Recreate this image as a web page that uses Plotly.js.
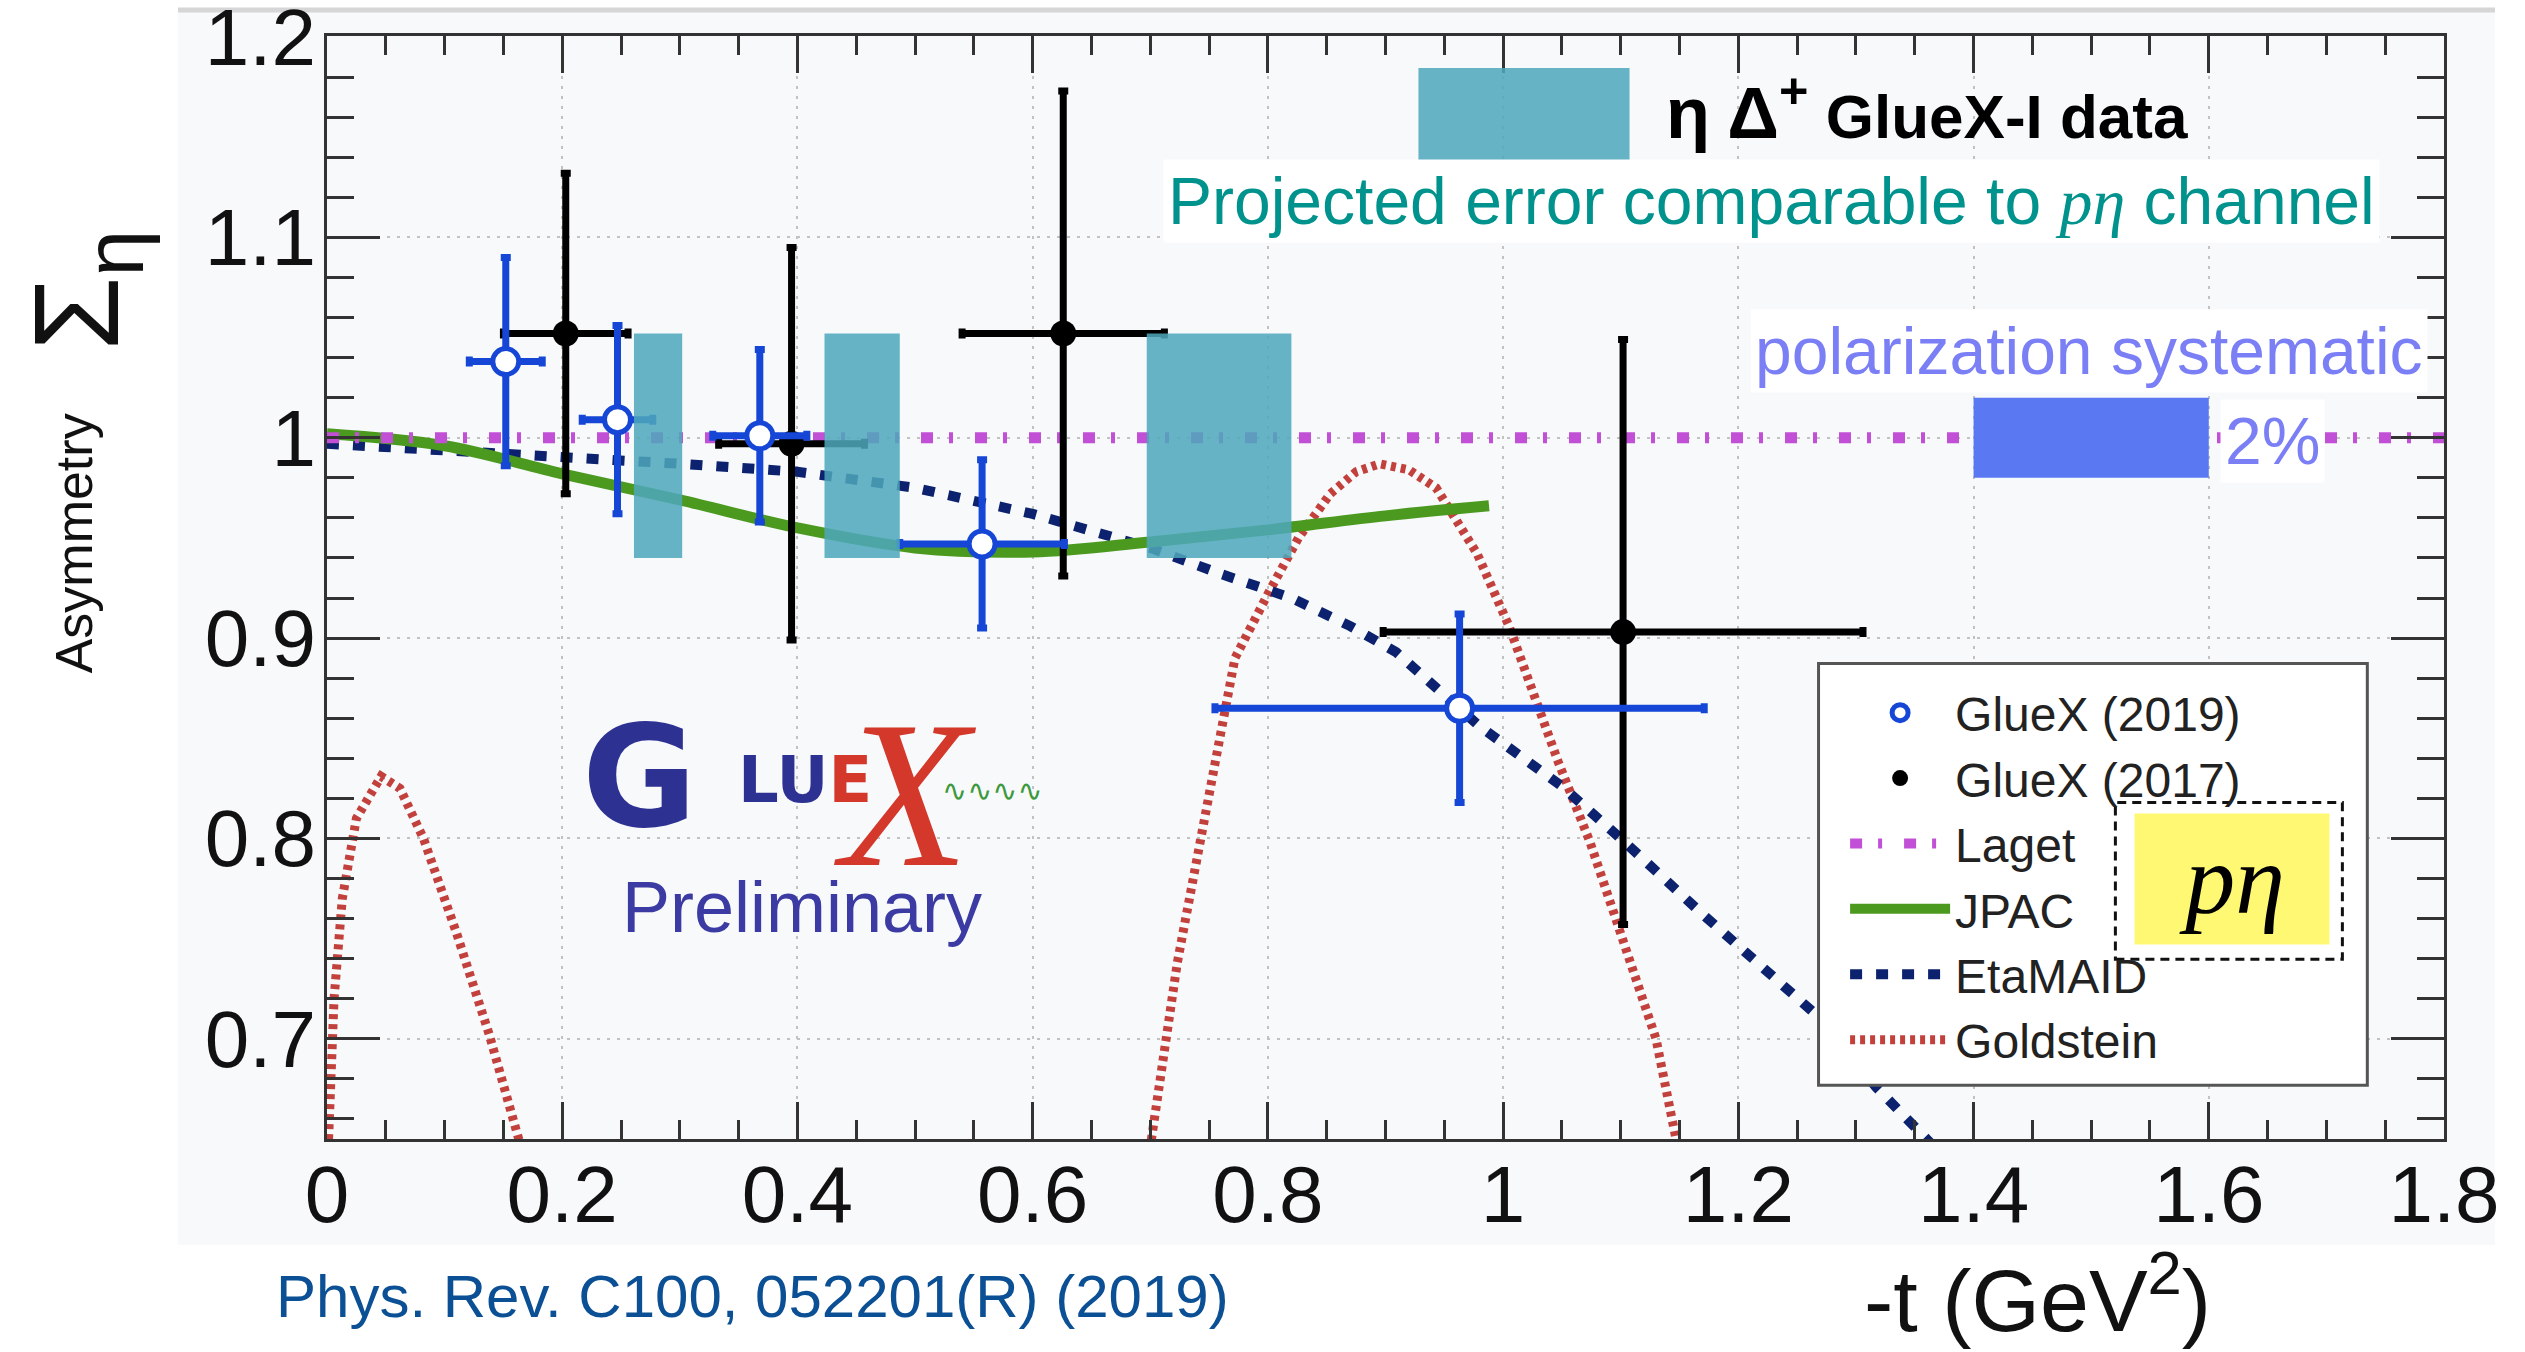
<!DOCTYPE html>
<html>
<head>
<meta charset="utf-8">
<script src="https://cdn.plot.ly/plotly-3.0.1.min.js"></script>
<style>
html,body{margin:0;padding:0;background:#ffffff;}
#chart{width:2525px;height:1352px;}
</style>
</head>
<body>
<div id="chart"></div>
<script>
// ---------------- data ----------------
// GlueX (2019): open blue circles
const gx19T    = [0.152, 0.247, 0.368, 0.557, 0.963];
const gx19S    = [1.038, 1.009, 1.001, 0.947, 0.865];
const gx19ErrS = [0.052, 0.047, 0.043, 0.042, 0.047];
const gx19ErrT = [0.031, 0.030, 0.040, 0.070, 0.208];
// GlueX (2017): filled black circles
const gx17T    = [0.203, 0.395, 0.626, 1.102];
const gx17S    = [1.052, 0.997, 1.052, 0.903];
const gx17ErrS = [0.080, 0.098, 0.121, 0.146];
const gx17ErrT = [0.053, 0.062, 0.086, 0.204];
// Model curves
const lagetT = [0, 1.8];
const lagetS = [1.0, 1.0];
const jpacT = [0, 0.1, 0.2, 0.3, 0.4, 0.5, 0.6, 0.7, 0.8, 0.9, 0.988];
const jpacS = [1.002, 0.996, 0.982, 0.969, 0.955, 0.945, 0.943, 0.948, 0.954, 0.961, 0.966];
const etaMaidT = [0, 0.1, 0.2, 0.3, 0.4, 0.5, 0.6, 0.7, 0.76, 0.82, 0.87, 0.909, 0.98, 1.05, 1.1, 1.17, 1.27, 1.317, 1.36, 1.38];
const etaMaidS = [0.997, 0.994, 0.990, 0.987, 0.983, 0.975, 0.962, 0.945, 0.932, 0.920, 0.906, 0.893, 0.856, 0.826, 0.800, 0.762, 0.710, 0.676, 0.650, 0.638];
const goldT = [0, 0.006, 0.013, 0.025, 0.046, 0.062, 0.082, 0.11, 0.138, 0.163, 0.175, null,
               0.69, 0.701, 0.723, 0.744, 0.772, 0.80, 0.826, 0.853, 0.875, 0.895, 0.92, 0.943, 0.978, 1.005, 1.047, 1.074, 1.102, 1.130, 1.147, 1.157];
const goldS = [0.63, 0.72, 0.77, 0.81, 0.831, 0.825, 0.80, 0.753, 0.702, 0.65, 0.625, null,
               0.61, 0.65, 0.738, 0.805, 0.89, 0.922, 0.95, 0.972, 0.983, 0.987, 0.984, 0.975, 0.942, 0.906, 0.838, 0.798, 0.749, 0.70, 0.65, 0.62];
// Projected eta Delta+ GlueX-I errors (t bins and Sigma band)
const projT0 = [0.261, 0.423, 0.697];
const projT1 = [0.302, 0.487, 0.820];
const projLo = [0.940, 0.940, 0.940];
const projHi = [1.052, 1.052, 1.052];
// Polarization systematic (2%) box
const sysT0 = [1.4];
const sysT1 = [1.6];
const sysLo = [0.98];
const sysHi = [1.02];
// Axis tick labels
const xTickVals = [0, 0.2, 0.4, 0.6, 0.8, 1, 1.2, 1.4, 1.6, 1.8];
const xTickText = ['0', '0.2', '0.4', '0.6', '0.8', '1', '1.2', '1.4', '1.6', '1.8'];
const yTickVals = [0.7, 0.8, 0.9, 1.0, 1.1, 1.2];
const yTickText = ['0.7', '0.8', '0.9', '1', '1.1', '1.2'];

// ---------------- helpers ----------------
function boxesX(x0, x1) {
  const out = [];
  for (let i = 0; i < x0.length; i++) out.push(x0[i], x1[i], x1[i], x0[i], x0[i], null);
  return out;
}
function boxesY(lo, hi) {
  const out = [];
  for (let i = 0; i < lo.length; i++) out.push(lo[i], lo[i], hi[i], hi[i], lo[i], null);
  return out;
}

const SANS = 'Liberation Sans, Arial, sans-serif';
const SERIF = 'Liberation Serif, Times New Roman, serif';
const TEAL = 'rgba(78,168,188,0.86)';

const traces = [
  { x: goldT, y: goldS, name: 'Goldstein', mode: 'lines', connectgaps: false, legendrank: 6,
    line: { color: '#c2413c', width: 9, dash: '5px,5px' } },
  { x: etaMaidT, y: etaMaidS, name: 'EtaMAID', mode: 'lines', legendrank: 5,
    line: { color: '#0c226e', width: 10, dash: '12px,14px' } },
  { x: jpacT, y: jpacS, name: 'JPAC', mode: 'lines', legendrank: 4, line: { shape: 'spline', color: '#4b9a1f', width: 11 } },
  { x: lagetT, y: lagetS, name: 'Laget', mode: 'lines', legendrank: 3,
    line: { color: '#c150d6', width: 11, dash: '12px,16px,4px,22px' } },
  { x: gx17T, y: gx17S, name: 'GlueX (2017)', mode: 'markers', legendrank: 2,
    marker: { symbol: 'circle', size: 26, color: '#000000' },
    error_y: { type: 'data', array: gx17ErrS, color: '#000000', thickness: 7, width: 5 },
    error_x: { type: 'data', array: gx17ErrT, color: '#000000', thickness: 7, width: 5 } },
  { x: gx19T, y: gx19S, name: 'GlueX (2019)', mode: 'markers', legendrank: 1,
    marker: { symbol: 'circle', size: 26, color: '#ffffff', line: { color: '#1546d6', width: 5 } },
    error_y: { type: 'data', array: gx19ErrS, color: '#1546d6', thickness: 7, width: 5 },
    error_x: { type: 'data', array: gx19ErrT, color: '#1546d6', thickness: 7, width: 5 } },
  { x: boxesX(projT0, projT1), y: boxesY(projLo, projHi), mode: 'lines', fill: 'toself',
    fillcolor: TEAL, line: { width: 0 }, showlegend: false, hoverinfo: 'skip' },
  { x: boxesX(sysT0, sysT1), y: boxesY(sysLo, sysHi), mode: 'lines', fill: 'toself',
    fillcolor: '#5a78f2', line: { width: 0 }, showlegend: false, hoverinfo: 'skip' }
];

const axisCommon = {
  ticks: 'inside', tickwidth: 3, tickcolor: '#333',
  showline: true, linewidth: 3, linecolor: '#333', mirror: 'ticks',
  showgrid: true, gridcolor: '#c2c2c2', gridwidth: 2, griddash: '3px,7px',
  zeroline: false, tickfont: { family: SANS, size: 80, color: '#111' },
  tickmode: 'array', fixedrange: true, ticklabeloverflow: 'allow'
};

const layout = {
  width: 2525, height: 1352,
  margin: { l: 327, r: 81, t: 36, b: 213 },
  paper_bgcolor: '#ffffff', plot_bgcolor: '#f9fbfc',
  showlegend: true,
  xaxis: Object.assign({}, axisCommon, {
    range: [0, 1.8], tickvals: xTickVals, ticktext: xTickText, ticklen: 37, ticklabelstandoff: -16,
    minor: { dtick: 0.05, tick0: 0, ticks: 'inside', ticklen: 19, tickwidth: 3, tickcolor: '#333', showgrid: false }
  }),
  yaxis: Object.assign({}, axisCommon, {
    range: [0.65, 1.2005], tickvals: yTickVals, ticktext: yTickText, ticklen: 53, ticklabelstandoff: -8,
    minor: { dtick: 0.02, tick0: 0, ticks: 'inside', ticklen: 27, tickwidth: 3, tickcolor: '#333', showgrid: false }
  }),
  legend: {
    x: 0.7171, y: 0.4207, xanchor: 'left', yanchor: 'top',
    bgcolor: 'rgba(0,0,0,0)', borderwidth: 0, itemwidth: 100, traceorder: 'normal',
    font: { family: SANS, size: 48, color: '#222' }
  },
  shapes: [
    // light backdrop of the embedded figure
    { type: 'rect', xref: 'paper', yref: 'paper', x0: -0.0704, x1: 1.0241, y0: -0.0961, y1: 1.0236,
      fillcolor: '#f7f9fb', line: { width: 0 }, layer: 'below' },
    { type: 'line', xref: 'paper', yref: 'paper', x0: -0.0704, x1: 1.0241, y0: 1.0236, y1: 1.0236,
      line: { color: '#d6d6d6', width: 5 }, layer: 'below' },
    // legend frame
    { type: 'rect', xref: 'x', yref: 'y', x0: 1.2682, x1: 1.7348, y0: 0.6768, y1: 0.8873,
      fillcolor: '#ffffff', line: { color: '#555555', width: 3 }, layer: 'above' },
    // dashed frame around p-eta tag
    { type: 'rect', xref: 'x', yref: 'y', x0: 1.5206, x1: 1.7136, y0: 0.7397, y1: 0.818,
      fillcolor: 'rgba(0,0,0,0)', line: { color: '#111111', width: 3, dash: '9px,6px' }, layer: 'above' },
    // key swatch for projected errors
    { type: 'rect', xref: 'x', yref: 'y', x0: 0.928, x1: 1.1075, y0: 1.1367, y1: 1.1845,
      fillcolor: TEAL, line: { width: 0 }, layer: 'above' }
  ],
  annotations: [
    { xref: 'x', yref: 'y', x: 1.1364, y: 1.165, xanchor: 'left', yanchor: 'middle', showarrow: false,
      text: '<span style="font-size:72px">η Δ<sup>+</sup></span> GlueX-I data',
      font: { family: SANS, size: 62, color: '#000', weight: 'bold' } },
    { xref: 'x', yref: 'y', x: 1.228, y: 1.1182, xanchor: 'center', yanchor: 'middle', showarrow: false,
      text: 'Projected error comparable to <span style="font-family:Liberation Serif;font-style:italic">pη</span> channel',
      font: { family: SANS, size: 66, color: '#00928c' }, bgcolor: '#ffffff', borderpad: 4 },
    { xref: 'x', yref: 'y', x: 1.4985, y: 1.0434, xanchor: 'center', yanchor: 'middle', showarrow: false,
      text: 'polarization systematic',
      font: { family: SANS, size: 66, color: '#7b7ff5' }, bgcolor: '#ffffff', borderpad: 4 },
    { xref: 'x', yref: 'y', x: 1.654, y: 0.9985, xanchor: 'center', yanchor: 'middle', showarrow: false,
      text: '2%', font: { family: SANS, size: 66, color: '#7b7ff5' }, bgcolor: '#ffffff', borderpad: 4 },
    { xref: 'x', yref: 'y', x: 1.620, y: 0.780, xanchor: 'center', yanchor: 'middle', showarrow: false,
      text: '<i>pη</i>', font: { family: SERIF, size: 100, color: '#000' },
      bgcolor: '#fff873', width: 194, height: 130, borderpad: 0 },
    // GlueX logo
    { xref: 'x', yref: 'y', x: 0.266, y: 0.8304, showarrow: false, text: 'G',
      font: { family: 'DejaVu Sans, sans-serif', size: 140, color: '#2d3192', weight: 'bold' } },
    { xref: 'x', yref: 'y', x: 0.406, y: 0.8294, showarrow: false,
      text: 'LU<span style="color:#d3382b">E</span>',
      font: { family: 'DejaVu Sans, sans-serif', size: 64, color: '#2d3192', weight: 'bold' } },
    { xref: 'x', yref: 'y', x: 0.4921, y: 0.8220, showarrow: false, text: 'X',
      font: { family: SERIF, size: 210, color: '#d3382b', style: 'italic' } },
    { xref: 'x', yref: 'y', x: 0.566, y: 0.8239, showarrow: false, text: '∿∿∿∿',
      font: { family: 'DejaVu Sans, sans-serif', size: 30, color: '#3c9a3c' } },
    { xref: 'x', yref: 'y', x: 0.4037, y: 0.7660, showarrow: false, text: 'Preliminary',
      font: { family: SANS, size: 72, color: '#3b3ba3' } },
    // axis titles
    { xref: 'paper', yref: 'paper', x: 0.8078, y: -0.1931, showarrow: false, xanchor: 'center', yanchor: 'bottom',
      text: '-t (GeV<sup>2</sup>)', font: { family: SANS, size: 88, color: '#111' } },
    { xref: 'paper', yref: 'paper', x: -0.134, y: 0.5403, showarrow: false, textangle: -90,
      text: 'Asymmetry', font: { family: SANS, size: 52, color: '#111' } },
    { xref: 'paper', yref: 'paper', x: -0.151, y: 0.826, showarrow: false, textangle: -90,
      text: 'Σ<sub>η</sub>', font: { family: SANS, size: 120, color: '#111' } },
    // reference
    { xref: 'paper', yref: 'paper', x: -0.025, y: -0.1432, showarrow: false, xanchor: 'left', yanchor: 'middle',
      text: 'Phys. Rev. C100, 052201(R) (2019)', font: { family: SANS, size: 60, color: '#0b4f95' } }
  ]
};

Plotly.newPlot('chart', traces, layout, { staticPlot: true, displayModeBar: false });
</script>
</body>
</html>
